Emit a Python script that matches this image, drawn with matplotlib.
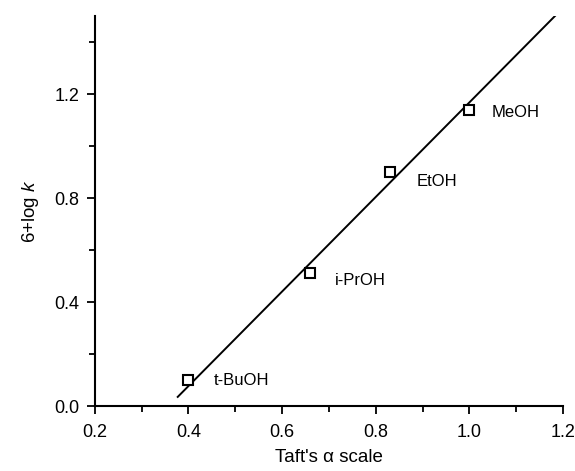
import matplotlib
matplotlib.use('Agg')
import matplotlib.pyplot as plt
from matplotlib.ticker import MultipleLocator

plt.rcParams['font.family'] = ['Liberation Sans', 'DejaVu Sans']
plt.rcParams['mathtext.fontset'] = 'custom'
plt.rcParams['mathtext.it'] = 'Liberation Sans:italic'
plt.rcParams['mathtext.rm'] = 'Liberation Sans'

# Taft's alpha vs 6+log k for the alcohols
solvents = ['t-BuOH', 'i-PrOH', 'EtOH', 'MeOH']
alpha = [0.40, 0.66, 0.83, 1.00]
logk = [0.10, 0.51, 0.90, 1.14]
# label offsets in points (dx, dy)
label_dx = [18, 18, 19, 16]
label_dy = [0, -5, -7, -2]

# fitted line ends
fit_x = [0.377, 1.183]
fit_y = [0.035, 1.50]

fig = plt.figure(figsize=(5.75, 4.71), dpi=100)
ax = fig.add_axes([0.165, 0.138, 0.814, 0.828])

ax.plot(fit_x, fit_y, color='black', lw=1.4)
ax.plot(alpha, logk, linestyle='none', marker='s', markersize=7,
        markerfacecolor='white', markeredgecolor='black', markeredgewidth=1.5)

for i in range(len(solvents)):
    ax.annotate(solvents[i], (alpha[i], logk[i]), xytext=(label_dx[i], label_dy[i]),
                textcoords='offset points', va='center', ha='left', fontsize=12)

ax.set_xlim(0.2, 1.2)
ax.set_ylim(0.0, 1.5)
ax.set_xticks([0.2, 0.4, 0.6, 0.8, 1.0, 1.2])
ax.set_yticks([0.0, 0.4, 0.8, 1.2])
ax.xaxis.set_minor_locator(MultipleLocator(0.1))
ax.yaxis.set_minor_locator(MultipleLocator(0.2))
ax.set_xticklabels(['0.2', '0.4', '0.6', '0.8', '1.0', '1.2'])
ax.set_yticklabels(['0.0', '0.4', '0.8', '1.2'])

ax.spines['top'].set_visible(False)
ax.spines['right'].set_visible(False)
ax.spines['left'].set_linewidth(1.5)
ax.spines['bottom'].set_linewidth(1.5)
ax.tick_params(which='major', direction='out', length=6, width=1.3, labelsize=13)
ax.tick_params(axis='x', which='major', pad=7)
ax.tick_params(axis='y', which='major', pad=5)
ax.tick_params(which='minor', direction='out', length=4, width=1.3)

ax.set_xlabel("Taft's \u03b1 scale", fontsize=13.5, labelpad=6)
ax.set_ylabel("6+log $k$", fontsize=13.5, labelpad=10)

plt.savefig('out.png', dpi=100)
